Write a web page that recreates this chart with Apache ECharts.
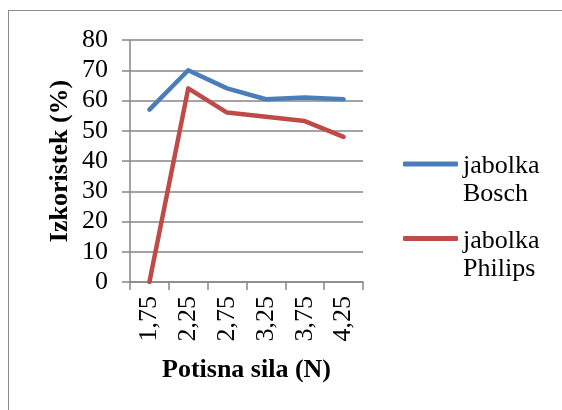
<!DOCTYPE html>
<html>
<head>
<meta charset="utf-8">
<script src="https://cdn.jsdelivr.net/npm/echarts@6/dist/echarts.min.js"></script>
<style>
    html, body { margin: 0; padding: 0; background: #fff; overflow: hidden; }
    #frame {
        position: absolute; left: 8px; top: 10px; width: 600px; height: 500px;
        border: 1px solid #8c8c8c;
    }
    #chart { position: absolute; left: 0; top: 0; width: 562px; height: 410px; }
</style>
</head>
<body>
<div id="frame"></div>
<div id="chart"></div>
<script>
// data
const categories = ['1,75', '2,25', '2,75', '3,25', '3,75', '4,25'];
const bosch = [57, 70, 64, 60.4, 61, 60.4];
const philips = [0, 64, 56, 54.6, 53.2, 48];
const seriesNames = ['jabolka Bosch', 'jabolka Philips'];
const colors = ['#4A7EBB', '#BE4B48'];

const font = "'Liberation Serif', 'Times New Roman', serif";
const gray = '#868686';

const myChart = echarts.init(document.getElementById('chart'));

const option = {
    color: colors,
    animation: false,
    textStyle: { fontFamily: font },
    grid: {
        left: 130,
        right: 199,
        top: 40,
        bottom: 128,
    },
    legend: {
        orient: 'vertical',
        left: 403,
        top: 131,
        padding: 0,
        icon: 'roundRect',
        itemWidth: 55,
        itemHeight: 5,
        itemGap: -2,
        data: seriesNames,
        // 图例文字分两行, 图标对齐第一行
        formatter: (name) => {
            const parts = name.split(' ');
            return '{s| }\n{t|' + parts[0] + '}\n{t|' + parts[1] + '}';
        },
        textStyle: {
            fontFamily: font,
            fontSize: 26,
            color: '#000',
            rich: {
                s: { fontSize: 10, lineHeight: 33 },
                t: { fontFamily: font, fontSize: 26, lineHeight: 28, color: '#000' },
            },
        },
    },
    xAxis: {
        type: 'category',
        data: categories,
        boundaryGap: true,
        name: 'Potisna sila (N)',
        nameLocation: 'middle',
        nameGap: 75,
        nameTextStyle: {
            fontFamily: font,
            fontSize: 26,
            fontWeight: 'bold',
            color: '#000',
        },
        axisLine: { lineStyle: { color: gray, width: 1.5 } },
        axisTick: { show: true, length: 8, lineStyle: { color: gray, width: 1.5 } },
        axisLabel: {
            rotate: 90,
            margin: 14,
            fontFamily: font,
            fontSize: 26,
            color: '#000',
        },
        splitLine: { show: false },
    },
    yAxis: {
        type: 'value',
        min: 0,
        max: 80,
        interval: 10,
        name: 'Izkoristek (%)',
        nameLocation: 'middle',
        nameGap: 57,
        nameTextStyle: {
            fontFamily: font,
            fontSize: 26,
            fontWeight: 'bold',
            color: '#000',
        },
        axisLine: { show: true, lineStyle: { color: gray, width: 1.5 } },
        axisTick: { show: true, length: 8, lineStyle: { color: gray, width: 1.5 } },
        axisLabel: {
            margin: 22,
            fontFamily: font,
            fontSize: 26,
            color: '#000',
        },
        splitLine: { lineStyle: { color: gray, width: 1.5 } },
    },
    series: [
        {
            name: seriesNames[0],
            type: 'line',
            data: bosch,
            showSymbol: false,
            lineStyle: { width: 4.5, cap: 'round', join: 'round' },
        },
        {
            name: seriesNames[1],
            type: 'line',
            data: philips,
            showSymbol: false,
            lineStyle: { width: 4.5, cap: 'round', join: 'round' },
        },
    ],
};

myChart.setOption(option);
</script>
</body>
</html>
